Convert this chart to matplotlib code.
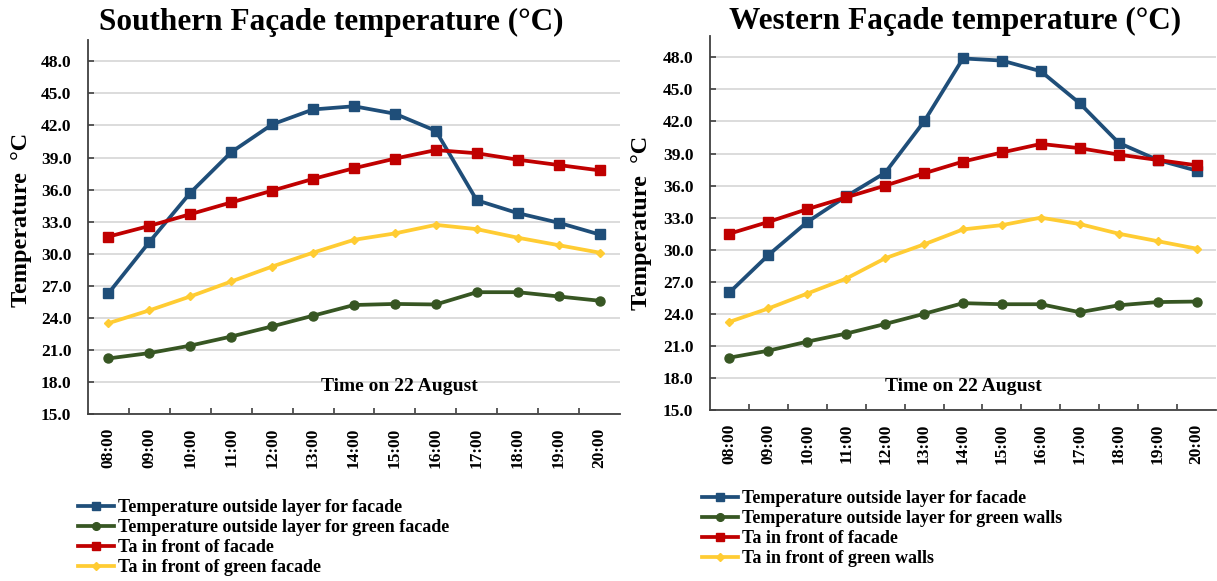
import matplotlib
matplotlib.use("Agg")
import matplotlib.pyplot as plt

plt.rcParams['font.family'] = ['Liberation Serif', 'DejaVu Serif']
plt.rcParams['font.weight'] = 'bold'

hours = ["08:00", "09:00", "10:00", "11:00", "12:00", "13:00", "14:00",
         "15:00", "16:00", "17:00", "18:00", "19:00", "20:00"]

# Southern facade
south_outside_facade = [26.3, 31.1, 35.7, 39.5, 42.1, 43.5, 43.8, 43.1, 41.5, 35.0, 33.8, 32.9, 31.8]
south_outside_green = [20.2, 20.7, 21.4, 22.25, 23.2, 24.2, 25.2, 25.3, 25.25, 26.4, 26.4, 26.0, 25.6]
south_ta_facade = [31.6, 32.6, 33.7, 34.8, 35.9, 37.0, 38.0, 38.9, 39.7, 39.4, 38.8, 38.3, 37.8]
south_ta_green = [23.5, 24.7, 26.0, 27.4, 28.8, 30.1, 31.3, 31.9, 32.7, 32.3, 31.5, 30.8, 30.1]

# Western facade
west_outside_facade = [26.0, 29.5, 32.6, 35.0, 37.2, 42.0, 47.9, 47.7, 46.7, 43.7, 40.0, 38.4, 37.4]
west_outside_green = [19.9, 20.55, 21.4, 22.15, 23.05, 24.0, 25.0, 24.9, 24.9, 24.15, 24.8, 25.1, 25.15]
west_ta_facade = [31.5, 32.6, 33.8, 34.9, 36.0, 37.15, 38.25, 39.1, 39.9, 39.5, 38.9, 38.4, 37.9]
west_ta_green = [23.25, 24.5, 25.9, 27.3, 29.2, 30.5, 31.9, 32.3, 33.0, 32.4, 31.5, 30.8, 30.1]

y_ticks = [15.0, 18.0, 21.0, 24.0, 27.0, 30.0, 33.0, 36.0, 39.0, 42.0, 45.0, 48.0]

south_labels = ["Temperature outside layer for facade",
                "Temperature outside layer for green facade",
                "Ta in front of facade",
                "Ta in front of green facade"]
west_labels = ["Temperature outside layer for facade",
               "Temperature outside layer for green walls",
               "Ta in front of facade",
               "Ta in front of green walls"]

BLUE = "#1F4E79"
GREEN = "#375623"
RED = "#C00000"
YELLOW = "#FFCC33"

styles = [
    dict(color=BLUE, marker='s', markersize=7),
    dict(color=GREEN, marker='o', markersize=6.5),
    dict(color=RED, marker='s', markersize=7),
    dict(color=YELLOW, marker='D', markersize=4.5),
]

fig = plt.figure(figsize=(12.17, 5.81), dpi=100)
W, H = 1217, 581


def draw_panel(rect, series, labels, title, title_xy, note_xy, ylabel_x,
               ylabel_y, legend_xy):
    ax = fig.add_axes(rect)
    x = list(range(len(hours)))
    handles = []
    for vals, st, lab in zip(series, styles, labels):
        ln, = ax.plot(x, vals, lw=2.7, color=st['color'], marker=st['marker'],
                      markersize=st['markersize'], markerfacecolor=st['color'],
                      markeredgecolor=st['color'], label=lab, zorder=3)
        handles.append(ln)
    ax.set_xlim(-0.5, len(hours) - 0.5)
    ax.set_ylim(15, 50)
    ax.set_yticks(y_ticks)
    ax.set_yticklabels([f"{v:.1f}" for v in y_ticks])
    ax.set_xticks(x)
    ax.set_xticklabels(hours, rotation=90)
    ax.set_xticks([i + 0.5 for i in x[:-1]], minor=True)
    ax.tick_params(axis='x', which='major', length=0, pad=10, labelsize=12.5)
    ax.tick_params(axis='x', which='minor', length=4, direction='in',
                   color='#404040', width=1.2)
    ax.tick_params(axis='y', length=4, direction='in', color='#404040',
                   width=1.2, pad=12, labelsize=12.5)
    ax.grid(axis='y', color='#D9D9D9', lw=1.3, zorder=0)
    ax.set_axisbelow(True)
    for s in ('top', 'right'):
        ax.spines[s].set_visible(False)
    for s in ('left', 'bottom'):
        ax.spines[s].set_color('#404040')
        ax.spines[s].set_linewidth(1.3)
    ax.set_ylabel("Temperature  °C", fontsize=17.5, fontweight='bold')
    ax.yaxis.set_label_coords(ylabel_x, ylabel_y)
    ax.text(note_xy[0], note_xy[1], "Time on 22 August", fontsize=14,
            fontweight='bold', ha='center', va='center')
    fig.text(title_xy[0], title_xy[1], title, fontsize=22.5, fontweight='bold',
             ha='center', va='center')
    fig.legend(handles=handles, loc='upper left', bbox_to_anchor=legend_xy,
               frameon=False, fontsize=13, handlelength=2.0,
               handletextpad=0.2, labelspacing=0.17, borderpad=0,
               borderaxespad=0, markerscale=0.85)
    return ax


left_rect = [88 / W, 1 - 414 / H, (620 - 88) / W, (414 - 40) / H]
right_rect = [710 / W, 1 - 410 / H, (1216 - 710) / W, (410 - 36) / H]

draw_panel(left_rect,
           [south_outside_facade, south_outside_green, south_ta_facade, south_ta_green],
           south_labels, "Southern Façade temperature (°C)",
           (331.6 / W, 1 - 22 / H), (7.1, 17.6), -0.105, 0.52,
           (78 / W, 1 - 499 / H))

draw_panel(right_rect,
           [west_outside_facade, west_outside_green, west_ta_facade, west_ta_green],
           west_labels, "Western Façade temperature (°C)",
           (954.6 / W, 1 - 21 / H), (6.0, 17.2), -0.115, 0.5,
           (702 / W, 1 - 490 / H))

fig.savefig("out.png", dpi=100)
